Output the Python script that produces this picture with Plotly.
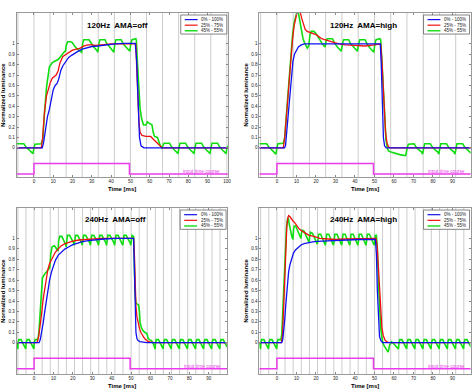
import plotly.graph_objects as go

W, H = 474, 389

# ---------------- data ----------------
input_t = [-9, 0, 0, 49.5, 49.5, 100.5]
input_v = [-0.25, -0.25, -0.15, -0.15, -0.25, -0.25]

# 120Hz AMA=off
tl_blue_t = [-9, 4.3, 5, 6, 7, 8, 9, 10, 11, 12, 12.8, 14, 15, 16.7, 18, 19.5, 21, 23, 25, 27, 30, 33, 37, 42, 47, 52.5, 53.2, 54, 54.7, 55.5, 57, 100.5]
tl_blue_v = [0, 0, 0.05, 0.2, 0.3, 0.37, 0.47, 0.56, 0.6, 0.62, 0.66, 0.75, 0.79, 0.84, 0.87, 0.89, 0.91, 0.93, 0.95, 0.96, 0.975, 0.98, 0.99, 1.0, 1.005, 1.005, 0.85, 0.45, 0.1, 0.02, 0.0, 0.0]
tl_red_t = [-9, 3.8, 4.5, 5.5, 6.5, 7.5, 8.5, 9.5, 10.5, 11.5, 12.5, 13.5, 15, 16.7, 18, 20, 22, 24, 26, 28, 30, 32, 35, 40, 45, 50, 52.8, 53.3, 53.8, 54.4, 55, 56, 58, 60.5, 62, 63.5, 65, 66.5, 100.5]
tl_red_v = [0, 0, 0.1, 0.35, 0.5, 0.58, 0.63, 0.67, 0.69, 0.7, 0.74, 0.82, 0.88, 0.9, 0.92, 0.94, 0.95, 0.96, 0.98, 0.99, 0.99, 0.985, 0.99, 1.0, 1.0, 1.0, 1.0, 0.75, 0.45, 0.25, 0.15, 0.12, 0.11, 0.11, 0.08, 0.05, 0.02, 0.0, 0.0]
tl_green_t = [-9, -5.2, -4.2, -2.7, -1.2, -0.5, 0.0, 0.5, 3.8, 4.6, 5.3, 6.0, 6.5, 7.0, 7.5, 8.0, 8.8, 9.5, 10.5, 11.5, 12.5, 13.5, 14.5, 15.5, 16.3, 16.8, 17.5, 19, 20, 21, 22.5, 24, 24.7,
              25.2, 25.8, 28.5, 29.5, 31, 32.5, 33.1, 33.6, 34.2, 36.8, 37.8, 39.3, 40.8, 41.4, 41.9, 42.5, 45.2, 46.2, 47.7, 49.2, 49.7, 50.2, 50.8, 52.8, 53.1,
              53.7, 54.3, 55, 55.8, 56.8, 58, 58.8, 59.5, 61.2, 61.8, 62.5, 64, 64.8, 65.5, 66.3, 66.8, 67.4, 70.3, 71.3, 72.8, 74.2, 74.7,
              75.1, 75.7, 78.6, 79.6, 81.1, 82.5, 83.0, 83.4, 84.0, 86.9, 87.9, 89.4, 90.8, 91.3, 91.7, 92.3, 95.2, 96.2, 97.7, 99.1, 99.6, 100.0, 100.5]
tl_green_v = [0.04, 0.04, 0.01, -0.02, -0.04, -0.055, 0.0, 0.035, 0.04, 0.08, 0.3, 0.5, 0.58, 0.65, 0.72, 0.78, 0.8, 0.82, 0.83, 0.84, 0.85, 0.87, 0.9, 0.92, 0.93, 0.99, 1.02, 1.02, 1.01, 0.98, 0.95, 0.93, 0.92,
              1.0, 1.04, 1.04, 1.01, 0.97, 0.94, 0.92, 1.0, 1.04, 1.04, 1.0, 0.97, 0.94, 0.92, 1.0, 1.04, 1.04, 1.0, 0.97, 0.94, 0.93, 1.0, 1.04, 1.05, 1.03,
              0.8, 0.55, 0.38, 0.28, 0.22, 0.22, 0.25, 0.24, 0.22, 0.15, 0.11, 0.1, 0.05, 0.02, 0.0, 0.03, 0.045, 0.045, 0.01, -0.02, -0.04, -0.055,
              0.0, 0.045, 0.045, 0.01, -0.02, -0.04, -0.055, 0.0, 0.045, 0.045, 0.01, -0.02, -0.04, -0.055, 0.0, 0.045, 0.045, 0.01, -0.02, -0.04, -0.055, 0.0, 0.02]

# 120Hz AMA=high
tr_blue_t = [-9, 3.9, 4.4, 5.0, 5.8, 6.6, 7.4, 8.2, 9.0, 10, 11, 12.5, 14, 20, 30, 40, 53.0, 53.5, 54.0, 54.6, 55.2, 56, 99.5]
tr_blue_v = [0, 0, 0.02, 0.15, 0.35, 0.55, 0.72, 0.83, 0.9, 0.94, 0.97, 0.99, 1.0, 1.0, 1.0, 1.0, 1.0, 0.8, 0.4, 0.1, 0.02, 0.0, 0.0]
tr_red_t = [-9, 3.3, 4, 4.8, 5.6, 6.4, 7.2, 8, 8.8, 9.6, 10.4, 11.2, 12, 12.8, 13.6, 14.5, 15.5, 17, 18.5, 20, 21.5, 23, 24.5, 26, 28, 30, 32, 35, 40, 45, 50, 53.2, 53.8, 54.4, 55, 55.7, 56.4, 57.2, 58, 99.5]
tr_red_v = [0, 0, 0.1, 0.3, 0.5, 0.7, 0.88, 1.04, 1.17, 1.26, 1.31, 1.33, 1.3, 1.24, 1.18, 1.14, 1.12, 1.11, 1.1, 1.09, 1.07, 1.05, 1.04, 1.03, 1.02, 1.01, 1.0, 0.99, 0.985, 0.98, 0.99, 1.0, 0.85, 0.6, 0.35, 0.15, 0.05, 0.01, 0.0, 0.0]
tr_green_t = [-9, -5.2, -4.2, -2.7, -1.2, -0.5, 0.0, 0.5, 3.3, 4, 4.8, 5.6, 6.4, 7.2, 8, 8.8, 9.6, 10.3, 11, 11.8, 12.6, 13.4, 14.2, 15, 15.6, 16.3, 16.9, 17.6, 19, 20, 21.5, 23, 24.2, 24.7,
              25.2, 25.8, 28.5, 29.5, 31, 32.5, 33.0, 33.6, 34.2, 36.8, 37.8, 39.3, 40.8, 41.3, 41.9, 42.5, 45.2, 46.2, 47.7, 49.2, 49.7, 50.2, 50.8, 52.8, 53.2,
              53.8, 54.5, 55.2, 55.9, 56.6, 57.2, 58.5, 60, 61.5, 63, 64.5, 66, 66.8, 67.4, 70.3, 71.3, 72.8, 74.2, 74.7,
              75.1, 75.7, 78.6, 79.6, 81.1, 82.5, 83.0, 83.4, 84.0, 86.9, 87.9, 89.4, 90.8, 91.3, 91.7, 92.3, 95.2, 96.2, 97.7, 99.1, 99.5]
tr_green_v = [0.04, 0.04, 0.01, -0.02, -0.04, -0.06, 0.0, 0.04, 0.045, 0.1, 0.3, 0.5, 0.72, 0.92, 1.08, 1.2, 1.28, 1.31, 1.3, 1.22, 1.12, 1.05, 1.01, 0.98, 0.96, 0.98, 1.08, 1.12, 1.12, 1.1, 1.05, 1.01, 0.98, 0.97,
              1.03, 1.05, 1.05, 1.01, 0.97, 0.94, 0.93, 1.0, 1.04, 1.04, 1.0, 0.97, 0.94, 0.93, 1.0, 1.04, 1.04, 1.0, 0.96, 0.93, 0.92, 1.0, 1.04, 1.05, 1.04,
              0.85, 0.55, 0.25, 0.08, 0.0, -0.03, -0.04, -0.05, -0.06, -0.065, -0.07, -0.075, 0.0, 0.035, 0.04, 0.01, -0.02, -0.04, -0.06,
              0.0, 0.04, 0.04, 0.01, -0.02, -0.04, -0.06, 0.0, 0.04, 0.04, 0.01, -0.02, -0.04, -0.06, 0.0, 0.04, 0.04, 0.01, -0.02, -0.04, -0.05]

# 240Hz AMA=off
bl_blue_t = [-9, 2.6, 3.2, 4, 4.8, 5.6, 6.4, 7.2, 8, 9, 10, 11, 12.5, 14, 16, 18, 20, 22.5, 25, 28, 32, 36, 42, 51.3, 51.7, 52.1, 52.5, 53, 53.6, 54.5, 56, 58, 99.5]
bl_blue_v = [0, 0, 0.03, 0.1, 0.2, 0.31, 0.42, 0.52, 0.6, 0.68, 0.74, 0.79, 0.84, 0.87, 0.9, 0.92, 0.94, 0.955, 0.97, 0.98, 0.99, 0.995, 1.0, 1.0, 0.7, 0.3, 0.1, 0.04, 0.02, 0.01, 0.005, 0.0, 0.0]
bl_red_t = [-9, 1.5, 2.3, 3.1, 3.9, 4.7, 5.5, 6.3, 7.1, 8, 9, 10, 11, 12.5, 14, 16, 18, 20, 23, 26, 30, 35, 42, 51.3, 51.7, 52.1, 52.5, 53, 53.6, 54.3, 55, 55.8, 56.6, 57.5, 58.5, 60, 62, 99.5]
bl_red_v = [0, 0, 0.05, 0.15, 0.28, 0.42, 0.53, 0.62, 0.7, 0.76, 0.8, 0.84, 0.87, 0.9, 0.93, 0.95, 0.965, 0.975, 0.985, 0.99, 0.995, 1.0, 1.0, 1.0, 0.85, 0.55, 0.35, 0.25, 0.18, 0.14, 0.1, 0.07, 0.05, 0.03, 0.015, 0.005, 0.0, 0.0]
bl_green_t = [-9.0, -8.7, -8.4, -8.2, -7.8, -6.7, -5.5, -4.7, -4.3, -4.05, -3.6, -2.5, -1.3, -0.5, -0.1, 0.1, 0.5, 1.6, 2.0,
              2.5, 3.1, 3.7, 4.3, 5.5, 7.0, 8.1, 8.6, 9.3, 10.5, 11.8, 12.35, 12.7, 13.2, 14.3, 15.4, 16.3, 16.55,
              16.8, 17.2, 18.3, 19.5, 20.3, 20.7, 20.95, 21.35, 22.45, 23.65, 24.45, 24.85,
              25.1, 25.5, 26.6, 27.8, 28.6, 29.0, 29.3, 29.7, 30.8, 32.0, 32.8, 33.2,
              33.45, 33.85, 34.95, 36.15, 36.95, 37.35, 37.6, 38.0, 39.1, 40.3, 41.1, 41.5,
              41.8, 42.2, 43.3, 44.5, 45.3, 45.7, 45.95, 46.35, 47.45, 48.65, 49.45, 49.85,
              50.1, 50.5, 51.3, 51.7, 52.1, 52.5, 53.3, 53.9, 54.3, 54.6, 55.2, 56.0, 57.0, 58.0, 58.4, 58.8, 59.5, 60.5, 61.5, 62.0, 62.4,
              62.6, 63.0, 64.1, 65.3, 66.1, 66.5, 66.8, 67.2, 68.3, 69.5, 70.3, 70.7,
              70.95, 71.35, 72.45, 73.65, 74.45, 74.85, 75.1, 75.5, 76.6, 77.8, 78.6, 79.0,
              79.3, 79.7, 80.8, 82.0, 82.8, 83.2, 83.45, 83.85, 84.95, 86.15, 86.95, 87.35,
              87.6, 88.0, 89.1, 90.3, 91.1, 91.5, 91.8, 92.2, 93.3, 94.5, 95.3, 95.7,
              95.95, 96.35, 97.45, 98.65, 99.45]
bl_green_v = [0.0, -0.04, -0.06, 0.0, 0.03, 0.03, -0.01, -0.04, -0.06, 0.0, 0.03, 0.03, -0.01, -0.04, -0.06, 0.0, 0.03, 0.03, 0.04,
              0.1, 0.3, 0.5, 0.62, 0.66, 0.7, 0.72, 0.85, 0.92, 0.93, 0.9, 0.88, 0.98, 1.02, 1.02, 0.98, 0.94, 0.92,
              0.97, 1.03, 1.03, 0.99, 0.96, 0.935, 0.97, 1.03, 1.03, 0.99, 0.96, 0.935,
              0.97, 1.03, 1.03, 0.99, 0.96, 0.935, 0.97, 1.03, 1.03, 0.99, 0.96, 0.935,
              0.97, 1.03, 1.03, 0.99, 0.96, 0.935, 0.97, 1.03, 1.03, 0.99, 0.96, 0.935,
              0.97, 1.03, 1.03, 0.99, 0.96, 0.935, 0.97, 1.03, 1.03, 0.99, 0.96, 0.935,
              0.97, 1.03, 1.02, 0.7, 0.45, 0.38, 0.37, 0.36, 0.3, 0.2, 0.15, 0.12, 0.1, 0.09, 0.07, 0.04, 0.03, 0.02, -0.01, -0.04, -0.06,
              0.0, 0.03, 0.03, -0.01, -0.04, -0.06, 0.0, 0.03, 0.03, -0.01, -0.04, -0.06,
              0.0, 0.03, 0.03, -0.01, -0.04, -0.06, 0.0, 0.03, 0.03, -0.01, -0.04, -0.06,
              0.0, 0.03, 0.03, -0.01, -0.04, -0.06, 0.0, 0.03, 0.03, -0.01, -0.04, -0.06,
              0.0, 0.03, 0.03, -0.01, -0.04, -0.06, 0.0, 0.03, 0.03, -0.01, -0.04, -0.06,
              0.0, 0.03, 0.03, -0.01, -0.04]

# 240Hz AMA=high
br_blue_t = [-9, 2.5, 3.0, 3.5, 4, 4.5, 5, 5.5, 6, 6.7, 7.5, 8.5, 9.5, 11, 12.5, 14, 16, 19, 23, 28, 35, 42, 50.5, 51.0, 51.5, 52, 52.6, 53.3, 54.2, 99.5]
br_blue_v = [0, 0, 0.03, 0.1, 0.22, 0.35, 0.49, 0.6, 0.68, 0.75, 0.81, 0.86, 0.89, 0.92, 0.94, 0.95, 0.96, 0.97, 0.975, 0.98, 0.985, 0.99, 0.99, 0.85, 0.5, 0.2, 0.06, 0.02, 0.0, 0.0]
br_red_t = [-9, 2.3, 2.9, 3.5, 4.1, 4.6, 5.1, 5.6, 6.0, 6.6, 7.3, 8.2, 9.2, 10.3, 11.5, 13, 14.5, 16.5, 19, 22, 26, 30, 35, 42, 50.8, 51.4, 52, 52.6, 53.2, 53.8, 54.5, 55.3, 56.2, 57.5, 99.5]
br_red_v = [0, 0, 0.08, 0.35, 0.7, 0.95, 1.12, 1.2, 1.22, 1.21, 1.19, 1.17, 1.15, 1.12, 1.09, 1.07, 1.05, 1.03, 1.02, 1.0, 0.995, 0.99, 0.995, 1.0, 1.0, 0.93, 0.75, 0.5, 0.3, 0.15, 0.07, 0.03, 0.01, 0.0, 0.0]
br_green_t = [-9.0, -8.7, -8.4, -8.2, -7.8, -6.7, -5.5, -4.7, -4.3, -4.05, -3.6, -2.5, -1.3, -0.5, -0.1, 0.1, 0.5, 1.6, 2.0,
              2.5, 3.1, 3.7, 4.3, 4.9, 5.4, 5.8, 6.3, 6.8, 7.4, 8.0, 8.25, 8.5, 8.9, 9.6, 10.8, 11.8, 12.35, 12.6, 13.0, 13.9, 15.2, 16.2, 16.55,
              16.8, 17.2, 18.2, 19.4, 20.3, 20.7,
              20.95, 21.35, 22.45, 23.65, 24.45, 24.85,
              25.1, 25.5, 26.6, 27.8, 28.6, 29.0, 29.3, 29.7, 30.8, 32.0, 32.8, 33.2,
              33.45, 33.85, 34.95, 36.15, 36.95, 37.35, 37.6, 38.0, 39.1, 40.3, 41.1, 41.5,
              41.8, 42.2, 43.3, 44.5, 45.3, 45.7, 45.95, 46.35, 47.45, 48.65, 49.45, 49.85,
              50.1, 50.5, 51.0, 51.5, 52.0, 52.6, 53.2, 53.8, 54.3, 55.0, 55.7, 56.4, 57.0, 57.4, 57.8, 58.3, 58.7, 59.4, 60.5, 61.5, 62.3,
              62.6, 63.0, 64.1, 65.3, 66.1, 66.5, 66.8, 67.2, 68.3, 69.5, 70.3, 70.7,
              70.95, 71.35, 72.45, 73.65, 74.45, 74.85, 75.1, 75.5, 76.6, 77.8, 78.6, 79.0,
              79.3, 79.7, 80.8, 82.0, 82.8, 83.2, 83.45, 83.85, 84.95, 86.15, 86.95, 87.35,
              87.6, 88.0, 89.1, 90.3, 91.1, 91.5, 91.8, 92.2, 93.3, 94.5, 95.3, 95.7,
              95.95, 96.35, 97.45, 98.65, 99.45]
br_green_v = [0.0, -0.04, -0.06, 0.0, 0.03, 0.03, -0.01, -0.04, -0.06, 0.0, 0.03, 0.03, -0.01, -0.04, -0.06, 0.0, 0.03, 0.03, 0.03,
              0.08, 0.35, 0.68, 0.92, 1.1, 1.18, 1.2, 1.14, 1.08, 1.04, 1.0, 0.99, 1.08, 1.12, 1.12, 1.06, 1.02, 1.0, 1.05, 1.08, 1.07, 1.02, 0.98, 0.96,
              1.02, 1.06, 1.05, 1.0, 0.97, 0.945,
              0.97, 1.04, 1.04, 0.99, 0.96, 0.935,
              0.97, 1.04, 1.04, 0.99, 0.96, 0.935, 0.97, 1.04, 1.04, 0.99, 0.96, 0.935,
              0.97, 1.04, 1.04, 0.99, 0.96, 0.935, 0.97, 1.04, 1.04, 0.99, 0.96, 0.935,
              0.97, 1.04, 1.04, 0.99, 0.96, 0.935, 0.97, 1.04, 1.04, 0.99, 0.96, 0.935,
              0.97, 1.03, 1.03, 0.9, 0.6, 0.35, 0.15, 0.05, 0.0, -0.03, -0.05, -0.07, -0.09, -0.06, -0.02, -0.01, 0.01, 0.0, -0.02, -0.04, -0.06,
              0.0, 0.03, 0.03, -0.01, -0.04, -0.06, 0.0, 0.03, 0.03, -0.01, -0.04, -0.06,
              0.0, 0.03, 0.03, -0.01, -0.04, -0.06, 0.0, 0.03, 0.03, -0.01, -0.04, -0.06,
              0.0, 0.03, 0.03, -0.01, -0.04, -0.06, 0.0, 0.03, 0.03, -0.01, -0.04, -0.06,
              0.0, 0.03, 0.03, -0.01, -0.04, -0.06, 0.0, 0.03, 0.03, -0.01, -0.04, -0.06,
              0.0, 0.03, 0.03, -0.01, -0.04]

series_names = ["0% - 100%", "25% - 75%", "45% - 55%"]
panel_titles = ["120Hz  AMA=off", "120Hz  AMA=high", "240Hz  AMA=off", "240Hz  AMA=high"]
refresh_hz = [120, 120, 240, 240]
y_ticks = [0, 0.1, 0.2, 0.3, 0.4, 0.5, 0.6, 0.7, 0.8, 0.9, 1]
y_ticktext = ["0", "0.1", "0.2", "0.3", "0.4", "0.5", "0.6", "0.7", "0.8", "0.9", "1"]
x_ticks_tl = [0, 10, 20, 30, 40, 50, 60, 70, 80, 90, 100]
x_ticks = [0, 10, 20, 30, 40, 50, 60, 70, 80, 90]

# ---------------- layout / style ----------------
BLUE, RED, GREEN, MAG = "#1010f0", "#f01010", "#10dd10", "#ea3cea"
FONT = "Liberation Sans, Arial, sans-serif"

# pixel boxes of the plot areas: (left, right, top, bottom)
boxes = [(16.7, 229.3, 12.7, 177.0), (261.0, 473.6, 12.7, 177.0),
         (16.7, 228.6, 207.7, 374.0), (261.0, 473.6, 207.7, 374.0)]
xranges = [[-9, 100.5], [-9, 99.3], [-9, 99.5], [-9, 99.3]]
yranges = [[-0.28, 1.3], [-0.28, 1.3], [-0.3, 1.295], [-0.3, 1.295]]
title_x = [26.2, 26.2, 25.0, 26.2]

panels = [
    (tl_blue_t, tl_blue_v, tl_red_t, tl_red_v, tl_green_t, tl_green_v),
    (tr_blue_t, tr_blue_v, tr_red_t, tr_red_v, tr_green_t, tr_green_v),
    (bl_blue_t, bl_blue_v, bl_red_t, bl_red_v, bl_green_t, bl_green_v),
    (br_blue_t, br_blue_v, br_red_t, br_red_v, br_green_t, br_green_v),
]

fig = go.Figure()
shapes, annotations = [], []
layout = {}

for i, (bt, bv, rt, rv, gt, gv) in enumerate(panels):
    n = "" if i == 0 else str(i + 1)
    xa, ya = "x" + n, "y" + n
    L, R, T, B = boxes[i]
    layout["xaxis" + n] = dict(
        domain=[L / W, R / W], range=xranges[i], anchor=ya,
        tickvals=x_ticks_tl if i == 0 else x_ticks,
        ticks="inside", ticklen=2, tickcolor="#888", mirror="ticks",
        showline=True, linecolor="#999", linewidth=1, showgrid=False, zeroline=False,
        tickfont=dict(size=4.5, family=FONT, color="#222"))
    layout["yaxis" + n] = dict(
        domain=[1 - B / H, 1 - T / H], range=yranges[i], anchor=xa,
        tickvals=y_ticks, ticktext=y_ticktext,
        ticks="inside", ticklen=2, tickcolor="#888", mirror="ticks",
        showline=True, linecolor="#999", linewidth=1, showgrid=False, zeroline=False,
        tickfont=dict(size=4.5, family=FONT, color="#222"))

    # refresh frame boundaries
    period = 1000.0 / refresh_hz[i]
    k = -2
    while k * period <= xranges[i][1]:
        f = k * period
        if f >= xranges[i][0]:
            shapes.append(dict(type="line", xref=xa, yref=ya + " domain", x0=f, x1=f, y0=0, y1=1,
                               line=dict(color="#cbcbcb", width=1), layer="below"))
        k += 1

    fig.add_trace(go.Scatter(x=input_t, y=input_v, xaxis=xa, yaxis=ya, mode="lines",
                             line=dict(color=MAG, width=1.5), showlegend=False, name="input time course"))
    fig.add_trace(go.Scatter(x=gt, y=gv, xaxis=xa, yaxis=ya, mode="lines",
                             line=dict(color=GREEN, width=1.6), showlegend=False, name=series_names[2]))
    fig.add_trace(go.Scatter(x=rt, y=rv, xaxis=xa, yaxis=ya, mode="lines",
                             line=dict(color=RED, width=1.3), showlegend=False, name=series_names[1]))
    fig.add_trace(go.Scatter(x=bt, y=bv, xaxis=xa, yaxis=ya, mode="lines",
                             line=dict(color=BLUE, width=1.3), showlegend=False, name=series_names[0]))

    # panel title
    annotations.append(dict(x=title_x[i], y=1.18, xref=xa, yref=ya, text="<b>" + panel_titles[i] + "</b>",
                            showarrow=False, xanchor="left", yanchor="middle",
                            font=dict(size=8, family=FONT, color="#000")))
    # input time course label
    annotations.append(dict(x=87, y=-0.225, xref=xa, yref=ya, text="input time course",
                            showarrow=False, xanchor="center", yanchor="middle",
                            font=dict(size=4.8, family=FONT, color=MAG)))
    # axis titles
    annotations.append(dict(x=(L + R) / 2 / W, y=1 - (B + 11.5) / H, xref="paper", yref="paper",
                            text="<b>Time [ms]</b>", showarrow=False, xanchor="center", yanchor="middle",
                            font=dict(size=6, family=FONT, color="#000")))
    annotations.append(dict(x=(L - 13.5) / W, y=1 - (T + B) / 2 / H, xref="paper", yref="paper",
                            text="<b>Normalized luminance</b>", showarrow=False, textangle=-90,
                            xanchor="center", yanchor="middle",
                            font=dict(size=6, family=FONT, color="#000")))

    # legend box (drawn)
    shapes.append(dict(type="rect", xref=xa + " domain", yref=ya + " domain",
                       x0=0.777, x1=0.995, y0=0.87, y1=0.986,
                       line=dict(color="#666", width=0.8), fillcolor="white", layer="above"))
    for j, (col, nm) in enumerate(zip([BLUE, RED, GREEN], series_names)):
        yy = 0.958 - j * 0.034
        shapes.append(dict(type="line", xref=xa + " domain", yref=ya + " domain",
                           x0=0.796, x1=0.857, y0=yy, y1=yy,
                           line=dict(color=col, width=1.4 if j == 2 else 1.2), layer="above"))
        annotations.append(dict(x=0.865, y=yy, xref=xa + " domain", yref=ya + " domain", text=nm,
                                showarrow=False, xanchor="left", yanchor="middle",
                                font=dict(size=4.5, family=FONT, color="#222")))

fig.update_layout(
    width=W, height=H, margin=dict(l=0, r=0, t=0, b=0),
    paper_bgcolor="white", plot_bgcolor="white",
    showlegend=False, shapes=shapes, annotations=annotations, **layout)

fig.write_html("out.html", config={"displayModeBar": False},
               post_script="document.body.style.margin='0';document.body.style.overflow='hidden';")
